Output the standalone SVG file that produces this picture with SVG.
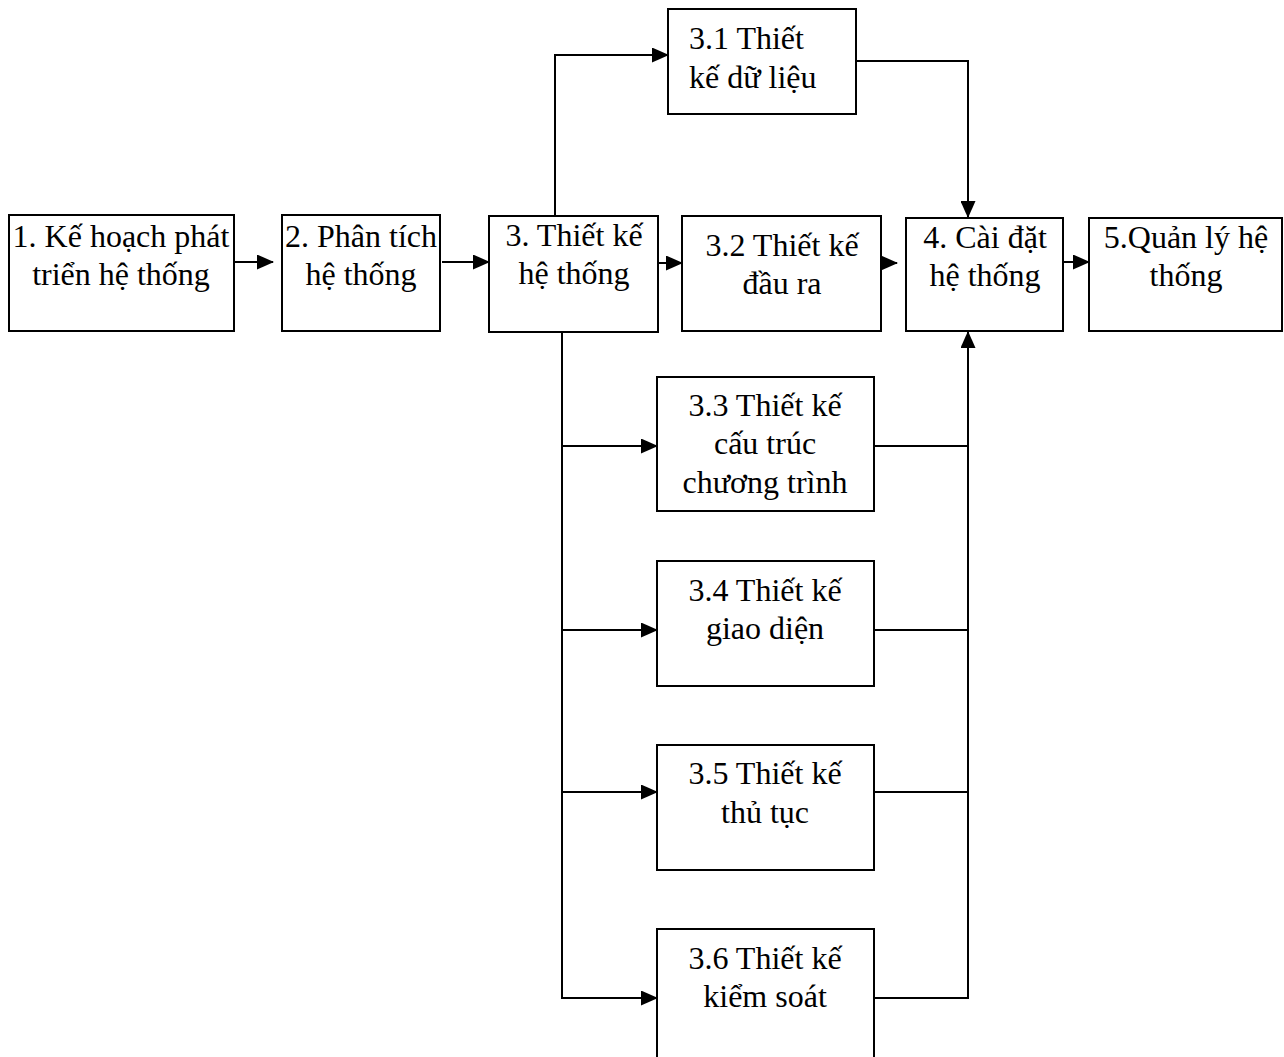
<svg xmlns="http://www.w3.org/2000/svg" width="1284" height="1057" viewBox="0 0 1284 1057">
<defs>
<marker id="arr" markerUnits="userSpaceOnUse" markerWidth="17" markerHeight="15" refX="16" refY="7.5" orient="auto">
<path d="M0,0 L17,7.5 L0,15 z" fill="#000"/>
</marker>
<style>
.box{fill:#fff;stroke:#000;stroke-width:2}
.t{font-family:"Liberation Serif","Times New Roman",serif;font-size:32px;fill:#000;text-anchor:middle}
.tl{font-family:"Liberation Serif","Times New Roman",serif;font-size:32px;fill:#000}
.c{fill:none;stroke:#000;stroke-width:2}
.a{fill:none;stroke:#000;stroke-width:2;marker-end:url(#arr)}
</style>
</defs>
<rect width="1284" height="1057" fill="#fff"/>
<g id="connectors">
<line class="a" x1="225" y1="262" x2="273" y2="262"/>
<line class="a" x1="442" y1="262" x2="489" y2="262"/>
<line class="a" x1="658" y1="263" x2="682" y2="263"/>
<line class="a" x1="873" y1="263" x2="897" y2="263"/>
<line class="a" x1="1063" y1="262" x2="1089" y2="262"/>
<polyline class="a" points="555,216 555,55 668,55"/>
<polyline class="a" points="856,61 968,61 968,217"/>
<polyline class="a" points="562,332 562,998 657,998"/>
<line class="a" x1="562" y1="446" x2="657" y2="446"/>
<line class="a" x1="562" y1="630" x2="657" y2="630"/>
<line class="a" x1="562" y1="792" x2="657" y2="792"/>
<polyline class="a" points="874,998 968,998 968,332"/>
<line class="c" x1="874" y1="446" x2="968" y2="446"/>
<line class="c" x1="874" y1="630" x2="968" y2="630"/>
<line class="c" x1="874" y1="792" x2="968" y2="792"/>
</g>
<g id="n1"><rect class="box" x="9" y="215" width="225" height="116"/>
<text class="t" x="121" y="247">1. Kế hoạch phát</text><text class="t" x="121" y="285">triển hệ thống</text></g>
<g id="n2"><rect class="box" x="282" y="215" width="158" height="116"/>
<text class="t" x="361" y="247">2. Phân tích</text><text class="t" x="361" y="285">hệ thống</text></g>
<g id="n3"><rect class="box" x="489" y="216" width="169" height="116"/>
<text class="t" x="574" y="246">3. Thiết kế</text><text class="t" x="574" y="284">hệ thống</text></g>
<g id="n31"><rect class="box" x="668" y="9" width="188" height="105"/>
<text class="tl" x="689" y="49">3.1 Thiết</text><text class="tl" x="689" y="88">kế dữ liệu</text></g>
<g id="n32"><rect class="box" x="682" y="216" width="199" height="115"/>
<text class="t" x="782" y="256">3.2 Thiết kế</text><text class="t" x="782" y="294">đầu ra</text></g>
<g id="n4"><rect class="box" x="906" y="218" width="157" height="113"/>
<text class="t" x="985" y="248">4. Cài đặt</text><text class="t" x="985" y="286">hệ thống</text></g>
<g id="n5"><rect class="box" x="1089" y="218" width="193" height="113"/>
<text class="t" x="1186" y="248">5.Quản lý hệ</text><text class="t" x="1186" y="286">thống</text></g>
<g id="n33"><rect class="box" x="657" y="377" width="217" height="134"/>
<text class="t" x="765" y="416">3.3 Thiết kế</text><text class="t" x="765" y="454">cấu trúc</text><text class="t" x="765" y="493">chương trình</text></g>
<g id="n34"><rect class="box" x="657" y="561" width="217" height="125"/>
<text class="t" x="765" y="601">3.4 Thiết kế</text><text class="t" x="765" y="639">giao diện</text></g>
<g id="n35"><rect class="box" x="657" y="745" width="217" height="125"/>
<text class="t" x="765" y="784">3.5 Thiết kế</text><text class="t" x="765" y="823">thủ tục</text></g>
<g id="n36"><rect class="box" x="657" y="929" width="217" height="140"/>
<text class="t" x="765" y="969">3.6 Thiết kế</text><text class="t" x="765" y="1007">kiểm soát</text></g>
</svg>
